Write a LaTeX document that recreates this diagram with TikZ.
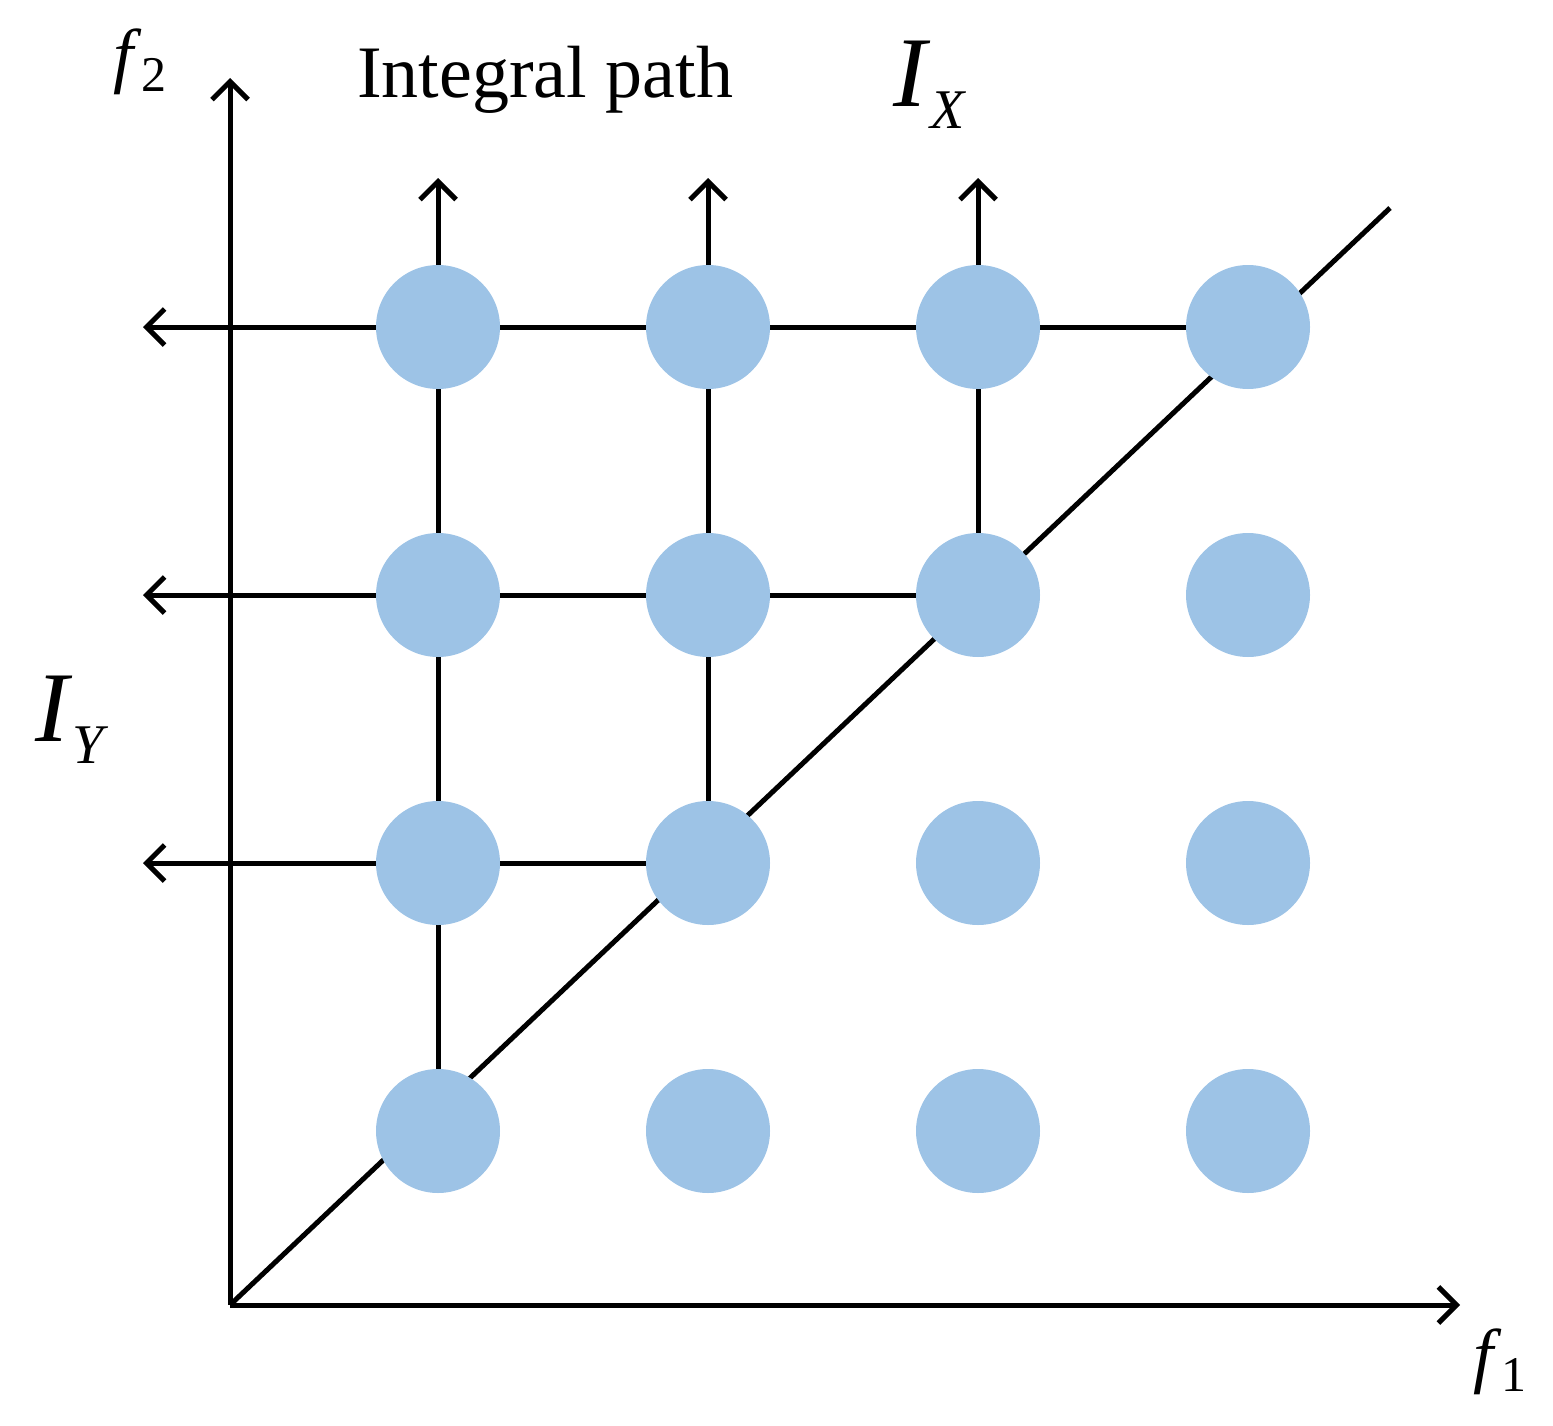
\documentclass[tikz,border=0pt]{standalone}
\usepackage{fontspec}
\setmainfont{Liberation Serif}
\usetikzlibrary{arrows.meta}
\definecolor{dot}{RGB}{157,195,230}
\begin{document}
\begin{tikzpicture}[x=1pt,y=-1pt,
  ln/.style={line width=5pt,black},
  ar/.style={ln,-{Straight Barb[length=18pt,width=36pt,line width=5pt]}},
  dotc/.style={circle,fill=dot,minimum size=124pt,inner sep=0pt}]
\useasboundingbox (0,0) rectangle (1553,1426);
\coordinate (O) at (230,1305);
\coordinate (Ytop) at (230,78);
\coordinate (Xend) at (1460,1305);
\coordinate (D) at (1390,208);
\foreach \i/\x in {1/438,2/708,3/978,4/1248}
  \foreach \j/\y in {1/1131,2/863,3/595,4/327}
    \coordinate (p\i\j) at (\x,\y);
\coordinate (t1) at (438,178);\coordinate (t2) at (708,178);\coordinate (t3) at (978,178);
\coordinate (l4) at (143,327);\coordinate (l3) at (143,595);\coordinate (l2) at (143,863);
\draw[ar] (O) -- (Ytop);
\draw[ar] (O) -- (Xend);
\draw[ln] (O) -- (D);
\draw[ar] (p11) -- (t1);
\draw[ar] (p22) -- (t2);
\draw[ar] (p33) -- (t3);
\draw[ar] (p44) -- (l4);
\draw[ar] (p33) -- (l3);
\draw[ar] (p22) -- (l2);
\foreach \i in {1,2,3,4}\foreach \j in {1,2,3,4}
  \node[dotc] (n\i\j) at (p\i\j) {};
\node[font=\fontsize{74}{80}\selectfont] (ip) at (545,80) {Integral path};
\node[font=\fontsize{72}{80}\selectfont] (f2) at (140,62) {\textit{f}\raisebox{-12pt}{\fontsize{50}{50}\selectfont 2}};
\node[font=\fontsize{72}{80}\selectfont] (f1) at (1500,1362) {\textit{f}\raisebox{-12pt}{\fontsize{50}{50}\selectfont 1}};
\node[font=\fontsize{100}{110}\selectfont] (IX) at (930,85) {\textit{I}\raisebox{-22pt}{\fontsize{56}{56}\selectfont\textit{X}}};
\node[font=\fontsize{100}{110}\selectfont] (IY) at (72,720) {\textit{I}\raisebox{-22pt}{\fontsize{56}{56}\selectfont\textit{Y}}};
\end{tikzpicture}
\end{document}
